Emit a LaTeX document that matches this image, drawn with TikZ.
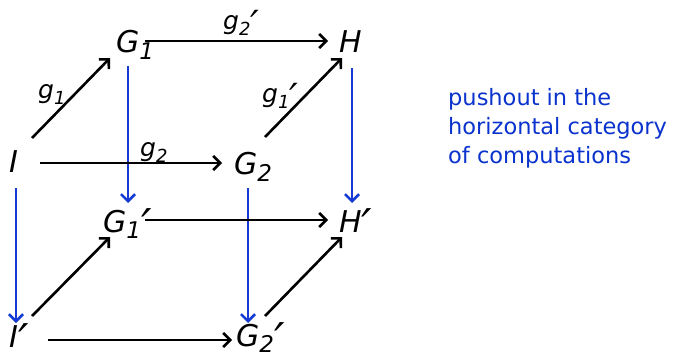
\documentclass[tikz,border=0pt]{standalone}
\usepackage{fontspec}
\setmainfont{DejaVu Sans}
\usetikzlibrary{arrows.meta}
\definecolor{vblue}{RGB}{22,58,210}
\definecolor{tblue}{RGB}{10,50,205}
\newcommand\bigsub[1]{\raisebox{-0.22em}{\fontsize{23}{23}\selectfont #1}}
\newcommand\smallsub[1]{\raisebox{-0.22em}{\fontsize{18}{18}\selectfont #1}}
\newcommand\pr{\smash{\raisebox{-0.36em}{\scalebox{1.55}{′}}}}
\begin{document}
\begin{tikzpicture}[x=1pt,y=-1pt,
  obj/.style={anchor=base west,inner sep=0pt,font=\fontsize{30}{30}\selectfont\itshape},
  lbl/.style={inner sep=0pt,font=\fontsize{25}{25}\selectfont\itshape},
  harr/.style={-{Straight Barb[length=7pt,width=14pt]},line width=2.6pt,black},
  varr/.style={-{Straight Barb[length=7pt,width=14pt]},line width=2.6pt,vblue}]
\useasboundingbox (0,0) rectangle (676,358);
% nodes
\node[obj] (G1) at (116,53) {G\bigsub{1}};
\node[obj] (H) at (339,53) {H};
\node[obj] (I) at (9,172) {I};
\node[obj] (G2) at (234,175) {G\bigsub{2}};
\node[obj] (G1p) at (103,232) {G\bigsub{1}\pr};
\node[obj] (Hp) at (339,232) {H\pr};
\node[obj] (Ip) at (9,347) {I\pr};
\node[obj] (G2p) at (236,346) {G\bigsub{2}\pr};
% labels
\node[lbl,anchor=base west] (l1) at (38,99) {g\smallsub{1}};
\node[lbl,anchor=base west] (l2) at (140,157) {g\smallsub{2}};
\node[lbl,anchor=base west] (l2p) at (223,30) {g\smallsub{2}\pr};
\node[lbl,anchor=base west] (l1p) at (262,103) {g\smallsub{1}\pr};
% text
\node[anchor=base west,inner sep=0pt,align=left,text=tblue,
  font=\fontsize{22.5}{29}\selectfont] (txt) at (448,164)
  {pushout in the\\horizontal category\\of computations};
% vertical blue arrows
\draw[varr] ([shift={(12,13)}]G1.base west) -- ([shift={(25,-29)}]G1p.base west);
\draw[varr] ([shift={(13,15)}]H.base west) -- ([shift={(13,-29)}]Hp.base west);
\draw[varr] ([shift={(7,16)}]I.base west) -- ([shift={(7,-24)}]Ip.base west);
\draw[varr] ([shift={(14,13)}]G2.base west) -- ([shift={(12,-23)}]G2p.base west);
% top face
\draw[harr] ([shift={(29,-12)}]G1.base west) -- ([shift={(-11,-12)}]H.base west);
\draw[harr] ([shift={(23,-34)}]I.base west) -- ([shift={(-6,5)}]G1.base west);
\draw[harr] ([shift={(31,-9)}]I.base west) -- ([shift={(-12,-12)}]G2.base west);
\draw[harr] ([shift={(31,-38)}]G2.base west) -- ([shift={(3,5)}]H.base west);
% bottom face
\draw[harr] ([shift={(42,-12)}]G1p.base west) -- ([shift={(-11,-12)}]Hp.base west);
\draw[harr] ([shift={(23,-31)}]Ip.base west) -- ([shift={(7,5)}]G1p.base west);
\draw[harr] ([shift={(39,-7)}]Ip.base west) -- ([shift={(-4,-6)}]G2p.base west);
\draw[harr] ([shift={(29,-30)}]G2p.base west) -- ([shift={(3,5)}]Hp.base west);
\end{tikzpicture}
\end{document}
